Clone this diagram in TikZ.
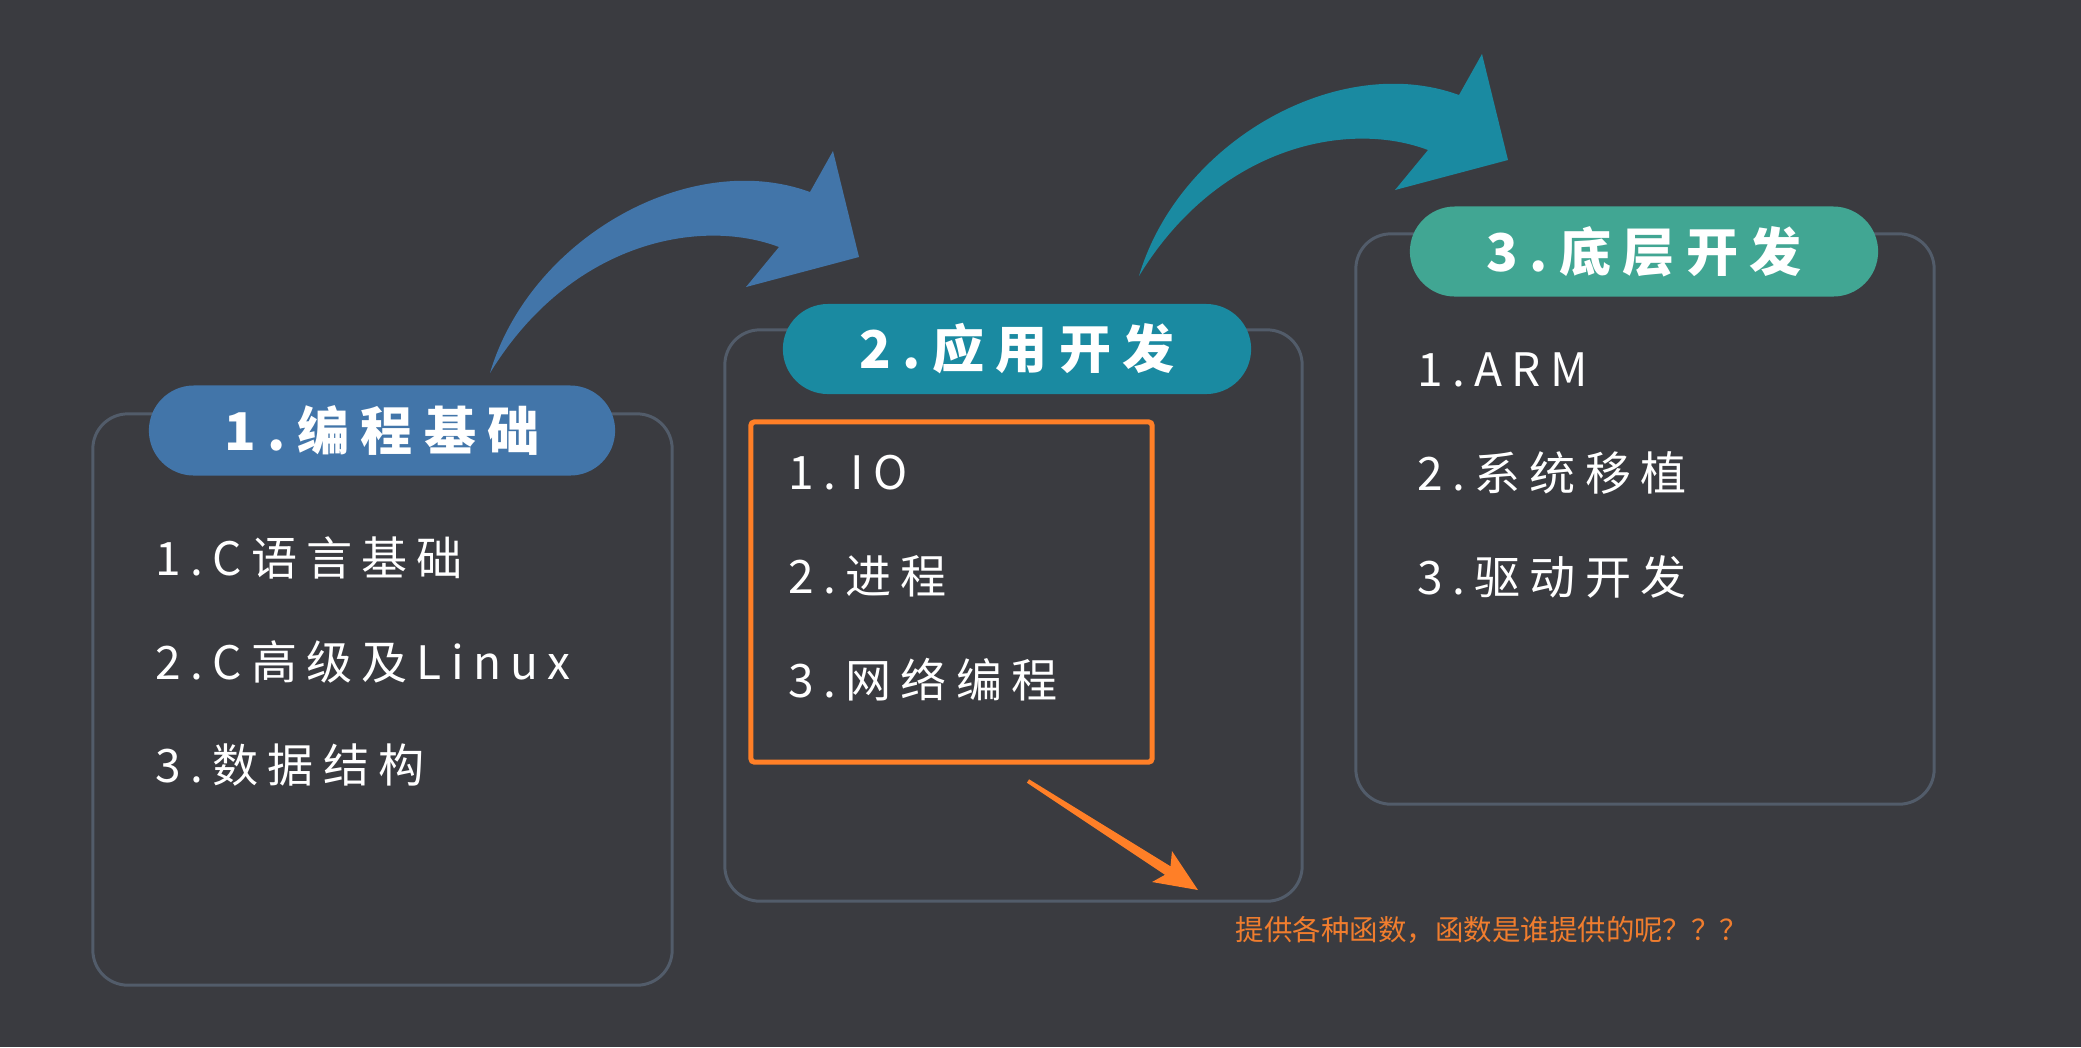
\documentclass[tikz,border=0pt]{standalone}
\usepackage{fontspec}
\usetikzlibrary{shapes.misc}
\setmainfont{Noto Sans CJK SC}
\newfontfamily\itemfont{Noto Sans CJK SC}[LetterSpace=20]
\newfontfamily\titlefont{Noto Sans CJK SC}[LetterSpace=22]
\newfontfamily\notefont{Noto Sans CJK SC}
\definecolor{bg}{HTML}{3A3B40}
\definecolor{boxc}{HTML}{525C6A}
\definecolor{cone}{HTML}{4275A9}
\definecolor{ctwo}{HTML}{1A8AA1}
\definecolor{cthree}{HTML}{41A693}
\definecolor{orng}{HTML}{FF7F27}
\definecolor{orngtxt}{HTML}{F07D2E}
\tikzset{
  panel/.style={draw=boxc, line width=0.85pt, rounded corners=0.35cm, rectangle, inner sep=0pt},
  pill/.style={rounded rectangle, inner sep=0pt, text=white, font=\titlefont\bfseries\fontsize{14.8pt}{16pt}\selectfont, minimum height=0.90cm},
  item/.style={anchor=west, inner sep=0pt, text=white, font=\itemfont\fontsize{13.1pt}{15pt}\selectfont},
  note/.style={anchor=west, inner sep=0pt, text=orngtxt, font=\notefont\fontsize{8.1pt}{9pt}\selectfont},
  hilite/.style={draw=orng, line width=1.45pt, rounded corners=1pt, rectangle, inner sep=0pt}
}
\begin{document}
\begin{tikzpicture}[x=0.01cm,y=-0.01cm]
\useasboundingbox (0,0) rectangle (2081,1047);
\fill[bg] (0,0) rectangle (2081,1047);

% curved arrows
\fill[cone] (490,373) .. controls (530,238) and (690,148) .. (810,192)
  -- (833,151) -- (859,257) -- (746,287) -- (779,247)
  .. controls (700,217) and (570,242) .. (490,373) -- cycle;
\fill[ctwo] (1139,276) .. controls (1179,141) and (1339,51) .. (1459,95)
  -- (1482,54) -- (1508,160) -- (1395,190) -- (1428,150)
  .. controls (1349,120) and (1219,145) .. (1139,276) -- cycle;

% panels
\node[panel, minimum width=5.79cm, minimum height=5.71cm] (b1) at (382.5,699.5) {};
\node[panel, minimum width=5.77cm, minimum height=5.71cm] (b2) at (1013.5,615.5) {};
\node[panel, minimum width=5.78cm, minimum height=5.70cm] (b3) at (1645,519) {};

% pills
\node[pill, fill=cone, minimum width=4.66cm] (p1) at (382,430.5) {1.编程基础};
\node[pill, fill=ctwo, minimum width=4.68cm] (p2) at (1017,349) {2.应用开发};
\node[pill, fill=cthree, minimum width=4.68cm] (p3) at (1644,251.5) {3.底层开发};

% items
\node[item] (a1) at (155,558) {1.C语言基础};
\node[item] (a2) at (155,662) {2.C高级及Linux};
\node[item] (a3) at (155,765) {3.数据结构};
\node[item] (m1) at (788,473) {1.\kern4pt IO};
\node[item] (m2) at (788,576) {2.进程};
\node[item] (m3) at (788,680) {3.网络编程};
\node[item] (d1) at (1417,370) {1.ARM};
\node[item] (d2) at (1417,473) {2.系统移植};
\node[item] (d3) at (1417,577) {3.驱动开发};

% highlight
\node[hilite, minimum width=4.01cm, minimum height=3.40cm] (hl) at (951.5,592) {};

% note
\node[note] (nt) at (1235,930) {提供各种函数，函数是谁提供的呢？？？};
\coordinate (ot) at (1028,781);
\coordinate (oh) at (1198,890);
\fill[orng, line join=round] (1029.1,779.3) -- (1170.5,866.3) -- (1172,851) -- (oh)
  -- (1152,882) -- (1165,874.8) -- (1026.9,782.7) -- cycle;
\end{tikzpicture}
\end{document}
